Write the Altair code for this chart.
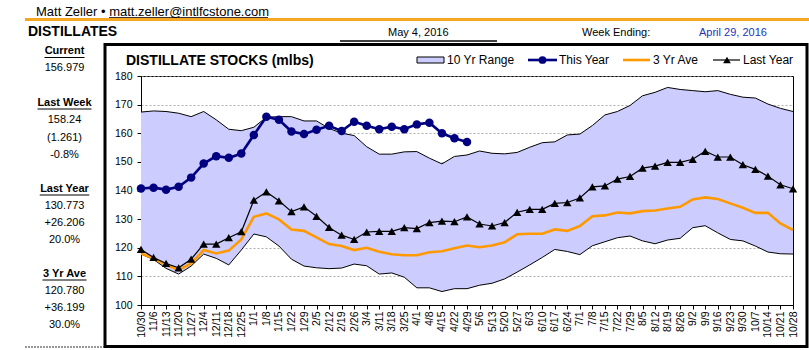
import altair as alt
import pandas as pd

weeks = ["10/30", "11/6", "11/13", "11/20", "11/27", "12/4", "12/11", "12/18", "12/25",
         "1/1", "1/8", "1/15", "1/22", "1/29", "2/5", "2/12", "2/19", "2/26",
         "3/4", "3/11", "3/18", "3/25", "4/1", "4/8", "4/15", "4/22", "4/29",
         "5/6", "5/13", "5/20", "5/27", "6/3", "6/10", "6/17", "6/24", "7/1",
         "7/8", "7/15", "7/22", "7/29", "8/5", "8/12", "8/19", "8/26", "9/2",
         "9/9", "9/16", "9/23", "9/30", "10/7", "10/14", "10/21", "10/28"]

this_year = [140.7, 141.0, 140.3, 141.3, 144.5, 149.4, 152.0, 151.4, 152.9, 159.4,
             165.8, 164.7, 160.6, 159.7, 161.2, 162.6, 160.8, 164.0, 162.6, 161.4,
             162.3, 161.4, 163.1, 163.7, 160.0, 158.24, 156.979]

last_year = [119.4, 116.6, 114.5, 113.0, 116.0, 121.3, 121.3, 123.5, 125.6, 136.6,
             139.5, 136.4, 132.6, 134.3, 131.0, 127.1, 124.4, 122.9, 125.5, 125.7,
             125.7, 127.0, 126.7, 128.8, 129.3, 129.1, 130.773, 128.3, 127.6, 128.8,
             132.4, 133.4, 133.4, 135.5, 135.8, 137.4, 141.3, 141.6, 144.0, 144.9,
             147.8, 148.5, 149.8, 149.8, 150.9, 153.7, 151.7, 151.7, 149.0, 147.4,
             145.0, 142.0, 140.6]

three_yr_ave = [118.0, 116.3, 114.0, 112.2, 114.5, 119.2, 118.0, 119.0, 122.9, 130.8,
                132.0, 129.9, 126.4, 125.9, 123.6, 121.3, 120.6, 119.2, 120.0, 118.6,
                117.7, 117.4, 117.4, 118.4, 118.8, 119.8, 120.78, 120.2, 120.8, 121.9,
                124.7, 124.9, 124.9, 126.4, 125.9, 127.6, 131.0, 131.3, 132.3, 132.0,
                132.8, 133.0, 133.7, 134.3, 136.9, 137.6, 137.0, 135.5, 134.0, 132.2,
                132.2, 128.5, 126.2]

range_low = [117.8, 115.9, 112.8, 110.8, 113.6, 117.8, 116.3, 114.0, 119.2, 124.8,
             123.8, 120.6, 116.0, 113.6, 113.0, 112.7, 112.9, 114.3, 113.7, 110.8,
             111.2, 109.7, 106.0, 106.0, 104.7, 105.7, 105.7, 106.9, 107.6, 109.1,
             111.5, 114.0, 116.6, 119.4, 118.7, 117.6, 120.7, 122.1, 123.5, 124.1,
             122.4, 121.4, 122.7, 123.3, 127.0, 127.7, 125.2, 122.9, 122.4, 120.6,
             118.5, 117.9, 117.8]

range_high = [167.4, 167.8, 167.6, 167.0, 165.8, 167.6, 164.7, 161.4, 160.9, 162.1,
              165.6, 165.8, 165.8, 164.3, 164.3, 161.7, 160.0, 159.2, 155.3, 152.7,
              152.7, 153.5, 153.6, 151.3, 149.3, 151.9, 152.4, 153.8, 153.0, 152.8,
              153.3, 155.1, 156.7, 157.0, 159.4, 159.7, 162.7, 166.4, 167.6, 169.7,
              173.1, 174.3, 176.0, 175.3, 174.9, 174.5, 174.9, 173.6, 172.6, 172.3,
              170.2, 168.7, 167.6]

y_ticks = [100, 110, 120, 130, 140, 150, 160, 170, 180]

stats = [
    ("Current", True), ("156.979", False),
    ("Last Week", True), ("158.24", False), ("(1.261)", False), ("-0.8%", False),
    ("Last Year", True), ("130.773", False), ("+26.206", False), ("20.0%", False),
    ("3 Yr Ave", True), ("120.780", False), ("+36.199", False), ("30.0%", False),
]

FONT = "Liberation Sans"
OX, OY = 141, 76          # plot origin in the page
W, H = 652, 229

df = pd.DataFrame({"week": weeks, "last": last_year, "ave": three_yr_ave,
                   "low": range_low, "high": range_high})
df_this = pd.DataFrame({"week": weeks[:len(this_year)], "this": this_year})
one = pd.DataFrame({"k": [0]})

xscale = alt.Scale(type="point", domain=weeks, padding=0)
yscale = alt.Scale(domain=[100, 180], nice=False, zero=False)
xax = alt.Axis(title=None, labelAngle=-90, labelFontSize=10.5, tickSize=4,
               labelPadding=2, grid=False)
yax = alt.Axis(title=None, values=y_ticks, labelFontSize=10.5, tickSize=4,
               labelPadding=5, grid=True, gridColor="#999999", gridDash=[2, 2],
               gridWidth=0.8)

X = alt.X("week:N", scale=xscale, axis=xax, sort=weeks)


def Y(f):
    return alt.Y(f + ":Q", scale=yscale, axis=yax)


band = alt.Chart(df).mark_area(color="#CCCCFF", opacity=1).encode(
    x=X, y=Y("low"), y2="high")
low_line = alt.Chart(df).mark_line(color="black", strokeWidth=1).encode(x=X, y=Y("low"))
high_line = alt.Chart(df).mark_line(color="black", strokeWidth=1).encode(x=X, y=Y("high"))
ave_line = alt.Chart(df).mark_line(color="#FF9900", strokeWidth=2.6).encode(x=X, y=Y("ave"))
last_line = alt.Chart(df).mark_line(
    color="black", strokeWidth=1.2,
    point=alt.OverlayMarkDef(shape="triangle-up", size=70, filled=True, color="black",
                             opacity=1)).encode(x=X, y=Y("last"))
this_line = alt.Chart(df_this).mark_line(
    color="#000080", strokeWidth=2.6,
    point=alt.OverlayMarkDef(shape="circle", size=72, filled=True, color="#000080",
                             opacity=1)).encode(x=X, y=Y("this"))


def txt(s, x, y, size=11, bold=False, align="left", color="black", baseline="middle"):
    return alt.Chart(one).mark_text(
        text=s, font=FONT, fontSize=size, fontWeight="bold" if bold else "normal",
        align=align, baseline=baseline, color=color).encode(
        x=alt.value(x - OX), y=alt.value(y - OY))


def hrule(x1, x2, y, color="black", width=1, dash=None):
    kw = dict(color=color, strokeWidth=width)
    if dash:
        kw["strokeDash"] = dash
    return alt.Chart(one).mark_rule(**kw).encode(
        x=alt.value(x1 - OX), x2=alt.value(x2 - OX), y=alt.value(y - OY))


deco = []
# header
deco.append(txt("Matt Zeller \u2022 matt.zeller@intlfcstone.com", 36, 16, size=13,
                baseline="alphabetic"))
deco.append(hrule(109, 268, 17.5, width=0.8))
deco.append(hrule(25, 809, 19.5, color="#F5A623", width=3))
deco.append(txt("DISTILLATES", 28, 32, size=14, bold=True))
deco.append(txt("May 4, 2016", 388, 33, size=11))
deco.append(hrule(340, 497, 41, width=1.5))
deco.append(txt("Week Ending:", 582, 33, size=11))
deco.append(txt("April 29, 2016", 699, 33, size=11, color="#2233BB"))

# outer frame
deco.append(alt.Chart(one).mark_rect(fillOpacity=0, stroke="black", strokeWidth=3).encode(
    x=alt.value(105 - OX), x2=alt.value(807 - OX),
    y=alt.value(44.5 - OY), y2=alt.value(346.5 - OY)))
deco.append(hrule(25, 104, 347, color="#333333", width=1, dash=[2, 1]))

# left stats panel
stat_y = [51, 67.5, 102.5, 120, 137.5, 155, 188.5, 205.5, 222.5, 240, 273.5, 291, 308, 325]
head_w = {"Current": 40, "Last Week": 54, "Last Year": 49.5, "3 Yr Ave": 44}
CX = 64.5
for (s, b), yy in zip(stats, stat_y):
    deco.append(txt(s, CX, yy, size=11, bold=b, align="center"))
    if b:
        hw = head_w[s] / 2
        deco.append(hrule(CX - hw, CX + hw, yy + 6.5, width=1))

# chart title
deco.append(txt("DISTILLATE STOCKS (mlbs)", 126, 61, size=14, bold=True))

# legend
deco.append(alt.Chart(one).mark_rect(fill="#CCCCFF", stroke="black", strokeWidth=1).encode(
    x=alt.value(417 - OX), x2=alt.value(444 - OX), y=alt.value(57 - OY), y2=alt.value(63 - OY)))
deco.append(txt("10 Yr Range", 447, 60, size=12))
deco.append(hrule(528, 557, 60, color="#000080", width=2.6))
deco.append(alt.Chart(one).mark_point(shape="circle", size=60, filled=True, color="#000080",
                                      opacity=1).encode(
    x=alt.value(542.5 - OX), y=alt.value(60 - OY)))
deco.append(txt("This Year", 559, 60, size=12))
deco.append(hrule(623, 650, 60, color="#FF9900", width=2.6))
deco.append(txt("3 Yr Ave", 653, 60, size=12))
deco.append(hrule(713, 740, 60, color="black", width=1.2))
deco.append(alt.Chart(one).mark_point(shape="triangle-up", size=60, filled=True, color="black",
                                      opacity=1).encode(
    x=alt.value(727 - OX), y=alt.value(60 - OY)))
deco.append(txt("Last Year", 743, 60, size=12))

chart = alt.layer(band, low_line, high_line, ave_line, last_line, this_line, *deco).properties(
    width=W, height=H,
    autosize=alt.AutoSizeParams(type="none"),
    padding={"left": OX, "top": OY, "right": 809 - OX - W, "bottom": 350 - OY - H},
    background="white",
).configure_view(stroke="black", strokeWidth=1).configure_axis(
    labelFont=FONT, labelColor="black", domainColor="black", tickColor="black",
    domainWidth=1, tickWidth=1)

chart.save("out.html", embed_options={"renderer": "svg", "actions": False})
